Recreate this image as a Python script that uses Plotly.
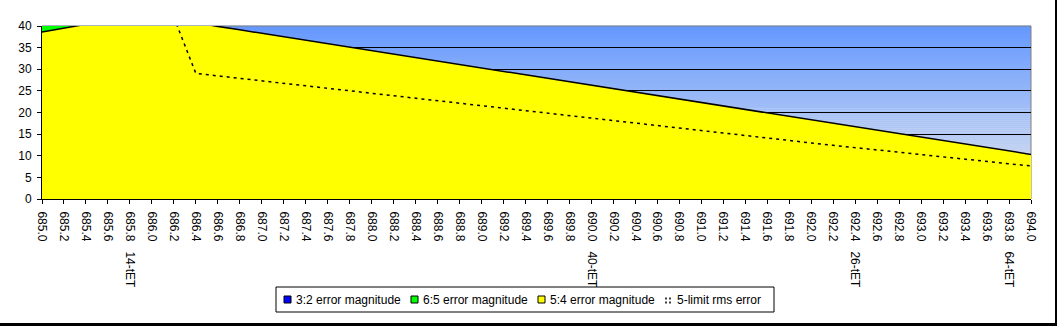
import plotly.graph_objects as go

CATEGORIES = ["685.0","685.2","685.4","685.6","685.8","686.0","686.2","686.4","686.6","686.8",
              "687.0","687.2","687.4","687.6","687.8","688.0","688.2","688.4","688.6","688.8",
              "689.0","689.2","689.4","689.6","689.8","690.0","690.2","690.4","690.6","690.8",
              "691.0","691.2","691.4","691.6","691.8","692.0","692.2","692.4","692.6","692.8",
              "693.0","693.2","693.4","693.6","693.8","694.0"]

ET_LABELS = {"685.8": "14-tET", "690.0": "40-tET", "692.4": "26-tET", "693.8": "64-tET"}

ERR_3_2 = [16.96,16.76,16.56,16.36,16.16,15.96,15.76,15.56,15.36,15.16,14.96,14.76,14.56,14.36,
           14.16,13.96,13.76,13.56,13.36,13.16,12.96,12.76,12.56,12.36,12.16,11.96,11.76,11.56,
           11.36,11.16,10.96,10.76,10.56,10.36,10.16,9.96,9.76,9.56,9.36,9.16,8.96,8.76,8.56,
           8.36,8.16,7.96]

ERR_6_5 = [66.0,64.5,63.0,61.5,60.0,58.5,57.0,25.16,24.56,23.96,23.36,22.76,22.16,21.56,20.96,
           20.36,19.76,19.16,18.56,17.96,17.36,16.76,16.16,15.56,14.96,14.36,13.76,13.16,12.56,
           11.96,11.36,10.76,10.16,9.56,8.96,8.36,7.76,7.16,6.56,5.96,5.36,4.76,4.16,3.56,2.96,2.36]

ERR_5_4 = [38.6,39.5,40.5,41.3,42.1,42.6,41.6,40.71,39.91,39.11,38.31,37.51,36.71,35.91,35.11,
           34.31,33.51,32.71,31.91,31.11,30.31,29.51,28.71,27.91,27.11,26.31,25.51,24.71,23.91,
           23.11,22.31,21.51,20.71,19.91,19.11,18.31,17.51,16.71,15.91,15.11,14.31,13.51,12.71,
           11.91,11.11,10.31]

RMS_5_LIMIT = [45.5,45.0,44.6,44.0,43.5,43.0,42.0,29.05,28.47,27.89,27.31,26.73,26.14,25.56,24.98,
               24.40,23.82,23.24,22.66,22.09,21.51,20.93,20.36,19.78,19.20,18.63,18.06,17.49,16.92,
               16.35,15.78,15.21,14.65,14.08,13.52,12.96,12.41,11.86,11.31,10.76,10.23,9.69,9.17,
               8.65,8.14,7.64]

SERIES_NAMES = ["3:2 error magnitude", "6:5 error magnitude", "5:4 error magnitude", "5-limit rms error"]
SERIES_COLORS = ["#0000FF", "#00FF00", "#FFFF00"]

FONT = "Liberation Sans, Arial, sans-serif"

W, H = 1057, 326
L, R, T, B = 42, 26, 26, 127
pw, ph = W - L - R, H - T - B


def px(x):
    return (x - L) / pw


def py(y):
    return (T + ph - y) / ph


ticktext = [c + ("\u00a0\u00a0\u00a0" + ET_LABELS[c] if c in ET_LABELS else "") for c in CATEGORIES]

fig = go.Figure()

for vals, name, col in zip([ERR_3_2, ERR_6_5, ERR_5_4], SERIES_NAMES[:3], SERIES_COLORS):
    fig.add_trace(go.Scatter(x=CATEGORIES, y=vals, mode="lines", fill="tozeroy", name=name,
                             fillcolor=col, line=dict(color="black", width=1.5),
                             showlegend=False, hoverinfo="skip"))

fig.add_trace(go.Scatter(x=CATEGORIES, y=RMS_5_LIMIT, mode="lines", name=SERIES_NAMES[3],
                         line=dict(color="black", width=1.5, dash="3px,4px"), showlegend=False))

shapes = []
annotations = []

# gradient plot-area background
N = 86
top = (100, 152, 255)
bot = (228, 231, 236)
for i in range(N):
    t = (i + 0.5) / N  # 0 bottom -> 1 top
    r = round(bot[0] + (top[0] - bot[0]) * t)
    g = round(bot[1] + (top[1] - bot[1]) * t)
    b = round(bot[2] + (top[2] - bot[2]) * t)
    shapes.append(dict(type="rect", xref="paper", yref="paper", x0=0, x1=1,
                       y0=i / N, y1=(i + 1) / N + 0.002, layer="below",
                       line=dict(width=0), fillcolor=f"rgb({r},{g},{b})"))
shapes.append(dict(type="rect", xref="paper", yref="paper", x0=0, x1=1, y0=0, y1=1,
                   layer="between", line=dict(color="#808080", width=1)))

# outer chart border (right & bottom shadow lines)
shapes.append(dict(type="line", xref="paper", yref="paper",
                   x0=px(1056), x1=px(1056), y0=py(0), y1=py(H),
                   line=dict(color="black", width=2), layer="above"))
shapes.append(dict(type="line", xref="paper", yref="paper",
                   x0=px(0), x1=px(W), y0=py(324.5), y1=py(324.5),
                   line=dict(color="black", width=3), layer="above"))

# manual legend
box_x0, box_x1, box_y0, box_y1 = 276, 774, 287, 312
yc = (box_y0 + box_y1) / 2
shapes.append(dict(type="rect", xref="paper", yref="paper",
                   x0=px(box_x0), x1=px(box_x1), y0=py(box_y1), y1=py(box_y0),
                   line=dict(color="black", width=1), fillcolor="white", layer="above"))
item_x = [284, 411, 538, 665]
for i, name in enumerate(SERIES_NAMES):
    x0 = item_x[i]
    if i < 3:
        shapes.append(dict(type="rect", xref="paper", yref="paper",
                           x0=px(x0), x1=px(x0 + 7), y0=py(yc + 3.5), y1=py(yc - 3.5),
                           line=dict(color="black", width=1), fillcolor=SERIES_COLORS[i],
                           layer="above"))
    else:
        for dx in (1, 5):
            shapes.append(dict(type="line", xref="paper", yref="paper",
                               x0=px(x0 + dx), x1=px(x0 + dx), y0=py(yc + 4), y1=py(yc - 4),
                               line=dict(color="black", width=1.5, dash="2px,2px"),
                               layer="above"))
    annotations.append(dict(xref="paper", yref="paper", x=px(x0 + 10), y=py(yc),
                            xanchor="left", yanchor="middle", text=name, showarrow=False,
                            font=dict(family=FONT, size=12, color="black")))

fig.update_layout(
    width=W, height=H,
    margin=dict(l=L, r=R, t=T, b=B),
    paper_bgcolor="white", plot_bgcolor="rgba(0,0,0,0)",
    font=dict(family=FONT, size=12, color="black"),
    shapes=shapes, annotations=annotations,
    showlegend=False,
)

fig.update_xaxes(type="category", range=[0, len(CATEGORIES) - 1],
                 tickmode="array", tickvals=CATEGORIES, ticktext=ticktext,
                 tickangle=90, ticks="outside", ticklen=4, tickcolor="black",
                 ticklabelstandoff=5,
                 showline=True, linecolor="black", linewidth=1, showgrid=False,
                 tickfont=dict(family=FONT, size=12, color="black"))
fig.update_yaxes(range=[0, 40], dtick=5, ticks="outside", ticklen=4, tickcolor="black",
                 ticklabelstandoff=3,
                 showline=True, linecolor="black", linewidth=1,
                 showgrid=True, gridcolor="black", gridwidth=1, zeroline=False,
                 tickfont=dict(family=FONT, size=12, color="black"))

fig.write_html("out.html")
